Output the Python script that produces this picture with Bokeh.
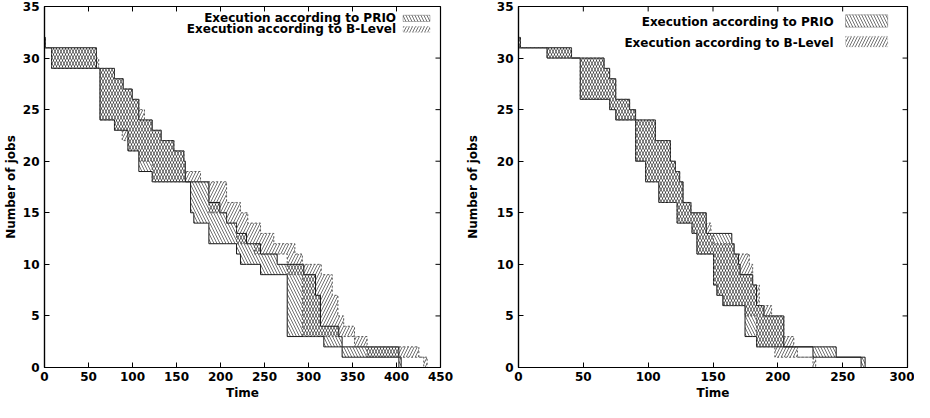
from bokeh.plotting import figure
from bokeh.layouts import row
from bokeh.models import Range1d, FixedTicker, Label, BoxAnnotation
from bokeh.embed import file_html
from bokeh.resources import INLINE

# ---------------- data ----------------
SERIES_NAMES = ["Execution according to PRIO", "Execution according to B-Level"]

Y_TICKS = [0, 5, 10, 15, 20, 25, 30, 35]
LEFT_X_TICKS = [0, 50, 100, 150, 200, 250, 300, 350, 400, 450]
RIGHT_X_TICKS = [0, 50, 100, 150, 200, 250, 300]

# left panel, PRIO: step start times, upper and lower number of jobs
L_PRIO_T = [0, 1, 8, 59, 63, 79.5, 89.4, 94.8, 99.7, 107.2, 122.4, 132.6, 147, 158.4, 160,
            166, 169.7, 186.8, 199.3, 206.9, 218.2, 222.7, 229.5, 245.5, 264.4, 275.8,
            294.7, 308, 313.6, 317.4, 334.4, 338.2, 402.7, 405.3]
L_PRIO_UP = [32, 31, 31, 29, 29, 28, 27, 27, 26, 24, 23, 22, 21, 20, 18,
             18, 18, 16, 15, 14, 13, 13, 12, 11, 10, 10,
             9, 7, 4, 4, 3, 2, 1, 0]
L_PRIO_LO = [31, 31, 29, 29, 24, 23, 23, 21, 21, 19, 18, 18, 18, 18, 18,
             15, 14, 12, 12, 12, 11, 10, 10, 9, 9, 3,
             3, 3, 3, 2, 2, 1, 0, 0]

# left panel, B-Level
L_BLEV_T = [0, 1, 8, 59, 61.6, 63, 79.5, 88.3, 89.4, 94.8, 99.7, 107.2, 113.6, 122.4, 132.6,
            147, 158.4, 160, 177.3, 186.8, 206.9, 218.2, 222.7, 231, 238.6, 245.5, 260.6,
            275.8, 284.5, 293, 314.5, 327, 333.4, 340, 352.3, 366.6, 425.4, 431, 434.8]
L_BLEV_UP = [32, 31, 31, 30, 29, 29, 28, 28, 27, 27, 26, 25, 24, 23, 22,
             21, 20, 19, 18, 18, 16, 16, 15, 14, 14, 13, 12,
             12, 11, 10, 9, 7, 5, 4, 3, 2, 1, 1, 0]
L_BLEV_LO = [31, 31, 29, 29, 29, 24, 23, 22, 22, 21, 21, 20, 20, 18, 18,
             18, 18, 18, 18, 15, 14, 12, 12, 12, 11, 11, 11,
             9, 9, 3, 3, 3, 3, 3, 2, 1, 1, 0, 0]

# right panel, PRIO
R_PRIO_T = [0, 1.5, 22, 40.9, 47.6, 66, 70.3, 75, 85.7, 90.3, 98, 105.6, 108.2, 117.2, 121,
            122.3, 124.3, 126.9, 133, 133.8, 137.6, 144.8, 150.4, 153, 157.6, 164.5, 166.3,
            169.6, 170.9, 174.7, 180.6, 183.6, 189.3, 204.6, 227.1, 245, 264.2, 267.3]
R_PRIO_UP = [32, 31, 31, 30, 30, 29, 28, 26, 25, 24, 24, 22, 22, 20, 19,
             19, 18, 16, 15, 15, 15, 13, 13, 13, 13, 12, 11,
             10, 9, 9, 8, 6, 5, 2, 2, 1, 1, 0]
R_PRIO_LO = [31, 31, 30, 30, 26, 26, 25, 24, 24, 20, 18, 18, 16, 16, 16,
             14, 14, 14, 14, 13, 11, 11, 8, 7, 6, 6, 6,
             6, 6, 3, 3, 2, 2, 2, 1, 1, 0, 0]

# right panel, B-Level
R_BLEV_T = [0, 1.5, 22, 40.9, 47.6, 66, 70.3, 75, 85.7, 90.3, 98, 105.6, 108.2, 117.2, 121,
            122.3, 124.3, 126.9, 133, 133.8, 137.6, 144.8, 148.4, 150.4, 153, 157.6, 166.3,
            174.7, 178, 180.6, 183.6, 185.7, 195.2, 197.7, 204.6, 212.3, 215.1, 227.1, 229.2]
R_BLEV_UP = [32, 31, 31, 30, 30, 29, 28, 26, 25, 24, 24, 22, 22, 20, 19,
             19, 18, 16, 15, 15, 15, 14, 13, 12, 12, 12, 11,
             11, 10, 8, 8, 6, 5, 5, 3, 2, 1, 1, 0]
R_BLEV_LO = [31, 31, 30, 30, 26, 26, 25, 24, 24, 20, 18, 18, 16, 16, 16,
             14, 14, 14, 14, 13, 11, 11, 11, 8, 7, 6, 6,
             5, 5, 5, 2, 2, 2, 1, 1, 1, 1, 0, 0]

FONT = "DejaVu Sans"
PRIO_HATCH = "left_diagonal_line"
BLEV_HATCH = "right_diagonal_line"
HATCH = dict(hatch_color="#111111", hatch_alpha=1.0, hatch_weight=0.6, hatch_scale=6)


def style_axis(ax, label_standoff, title_standoff):
    ax.major_tick_in = 5
    ax.major_tick_out = 0
    ax.minor_tick_line_color = None
    ax.axis_line_color = "black"
    ax.axis_line_width = 1.2
    ax.major_tick_line_color = "black"
    ax.major_label_text_font = FONT
    ax.major_label_text_font_style = "bold"
    ax.major_label_text_font_size = "12px"
    ax.major_label_text_color = "black"
    ax.major_label_standoff = label_standoff
    ax.axis_label_text_font = FONT
    ax.axis_label_text_font_style = "bold"
    ax.axis_label_text_font_size = "12px"
    ax.axis_label_text_color = "black"
    ax.axis_label_standoff = title_standoff


def panel(xmax, xticks, prio, blev, width, bl, br, ylab_standoff, leg):
    p = figure(width=width, height=402, output_backend="svg", toolbar_location=None,
               x_range=Range1d(0, xmax), y_range=Range1d(0, 35),
               min_border_left=bl, min_border_right=br, min_border_top=6, min_border_bottom=0)
    p.grid.visible = False
    p.outline_line_color = "black"
    p.outline_line_width = 1.2
    p.background_fill_color = "white"
    p.border_fill_color = "white"

    p.xaxis.ticker = FixedTicker(ticks=xticks)
    p.yaxis.ticker = FixedTicker(ticks=Y_TICKS)
    p.xaxis.axis_label = "Time"
    p.yaxis.axis_label = "Number of jobs"
    style_axis(p.xaxis[0], 4, 2)
    style_axis(p.yaxis[0], 5, ylab_standoff)

    # mirrored inward ticks on the top and right edges (gnuplot style)
    ty = 5.0 / 10.4
    tx = 5.0 * xmax / 395.0
    p.segment(x0=xticks, y0=[35] * len(xticks), x1=xticks, y1=[35 - ty] * len(xticks),
              line_color="black", line_width=1)
    p.segment(x0=[xmax] * len(Y_TICKS), y0=Y_TICKS, x1=[xmax - tx] * len(Y_TICKS), y1=Y_TICKS,
              line_color="black", line_width=1)

    for (t, up, lo), hatch, col, dash in ((prio, PRIO_HATCH, "#1a1a1a", "solid"),
                                         (blev, BLEV_HATCH, "#555555", "2 2")):
        p.varea_step(x=t, y1=lo, y2=up, step_mode="after", fill_color=None,
                     hatch_pattern=hatch, **HATCH)
        p.step(x=t, y=up, mode="after", line_color=col, line_width=1, line_dash=dash)
        p.step(x=t, y=lo, mode="after", line_color=col, line_width=1, line_dash=dash)

    (tx_, ty1, ty2, bx0, bx1, b1, b2) = leg
    for txt, yy in zip(SERIES_NAMES, (ty1, ty2)):
        p.add_layout(Label(x=tx_, y=yy, text=txt, text_align="right", text_baseline="middle",
                           text_font=FONT, text_font_style="bold", text_font_size="12px",
                           text_color="black"))
    for (bb, bt), hatch, col, dash in ((b1, PRIO_HATCH, "#1a1a1a", "solid"),
                                       (b2, BLEV_HATCH, "#555555", "2 2")):
        p.add_layout(BoxAnnotation(left=bx0, right=bx1, bottom=bb, top=bt,
                                   fill_color=None, fill_alpha=0,
                                   hatch_pattern=hatch, **HATCH,
                                   line_color=col, line_width=1, line_dash=dash))
    return p


p1 = panel(450, LEFT_X_TICKS, (L_PRIO_T, L_PRIO_UP, L_PRIO_LO), (L_BLEV_T, L_BLEV_UP, L_BLEV_LO),
           462, 44, 22, 2,
           (399.5, 33.9, 32.8, 407.5, 438, (33.55, 34.15), (32.5, 33.05)))
p2 = panel(300, RIGHT_X_TICKS, (R_PRIO_T, R_PRIO_UP, R_PRIO_LO), (R_BLEV_T, R_BLEV_UP, R_BLEV_LO),
           452, 54, 7, 14,
           (243, 33.5, 31.5, 252.2, 284.7, (33.0, 34.2), (31.1, 32.1)))

layout = row(p1, p2)
open("out.html", "w").write(file_html(layout, INLINE))
